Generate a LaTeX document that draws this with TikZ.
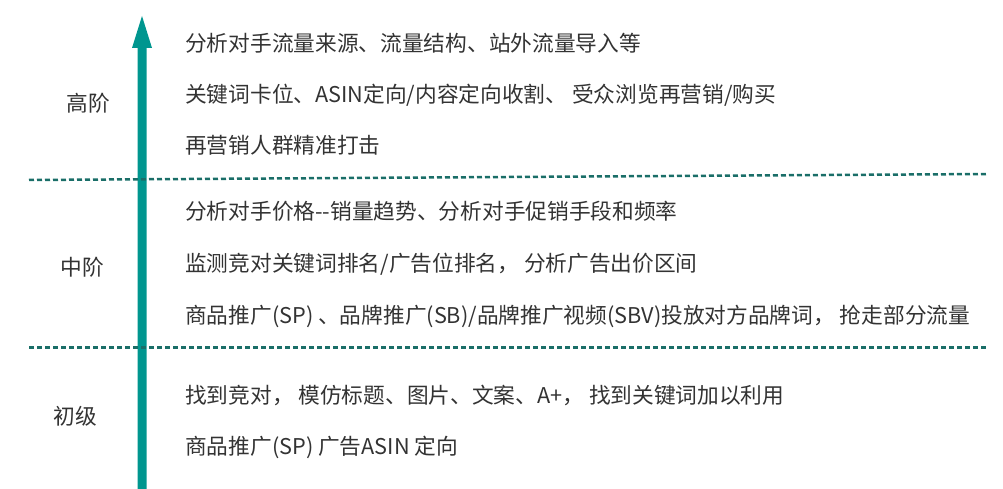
\documentclass[tikz,border=0pt]{standalone}
\usepackage{fontspec}
\setmainfont{Noto Sans CJK SC}
\definecolor{arrowteal}{HTML}{00968F}
\definecolor{dashteal}{HTML}{1A6E68}
\definecolor{txt}{HTML}{333333}
\begin{document}
\begin{tikzpicture}[x=1pt,y=-1pt,
  item/.style={anchor=west,inner sep=0pt,text=txt,font=\fontsize{21.7}{24}\selectfont,text height=0.88em,text depth=0.12em},
  level/.style={anchor=center,inner sep=0pt,text=txt,font=\fontsize{21.7}{24}\selectfont,text height=0.88em,text depth=0.12em},
  sep/.style={draw=dashteal,line width=2.5pt,dash pattern=on 5pt off 3pt}]
\useasboundingbox (0,0) rectangle (1003,489);
% arrow
\fill[arrowteal] (137.5,489) -- (137.5,48) -- (132,48) -- (142,16) -- (152,48) -- (146.5,48) -- (146.5,489) -- cycle;
% separators
\coordinate (s1a) at (29,180);
\coordinate (s1b) at (987,174);
\coordinate (s2a) at (29,347.7);
\coordinate (s2b) at (987,347.7);
\draw[sep] (s1a) -- (s1b);
\draw[sep] (s2a) -- (s2b);
% level labels
\node[level] (l1) at (88.5,108) {高阶};
\node[level] (l2) at (82.5,272) {中阶};
\node[level] (l3) at (75.5,421) {初级};
% items
\node[item] (a1) at (185,48) {分析对手流量来源、流量结构、站外流量导入等};
\node[item] (a2) at (185,99) {关键词卡位、ASIN定向/内容定向收割、 受众浏览再营销/购买};
\node[item] (a3) at (185,150) {再营销人群精准打击};
\node[item] (b1) at (185,216) {分析对手价格-{}-销量趋势、分析对手促销手段和频率};
\node[item] (b2) at (185,268) {监测竞对关键词排名/广告位排名， 分析广告出价区间};
\node[item] (b3) at (185,320) {商品推广(SP) 、品牌推广(SB)/品牌推广视频(SBV)投放对方品牌词， 抢走部分流量};
\node[item] (c1) at (185,400) {找到竞对， 模仿标题、图片、文案、A+， 找到关键词加以利用};
\node[item] (c2) at (185,451) {商品推广(SP) 广告ASIN 定向};
\end{tikzpicture}
\end{document}
